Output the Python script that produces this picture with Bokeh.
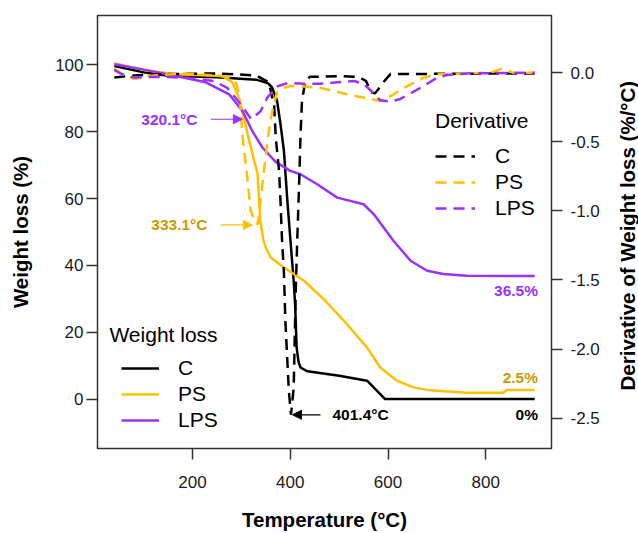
import math
from bokeh.plotting import figure
from bokeh.layouts import row
from bokeh.core.properties import value
from bokeh.models import (Range1d, LinearAxis, FixedTicker, NumeralTickFormatter,
                          Legend, LegendItem, Label, Arrow, NormalHead)
from bokeh.embed import file_html
from bokeh.resources import INLINE

# ---------------- data ----------------
# Weight loss (%) vs temperature (°C)
c_temp = [40, 100, 150, 250, 330, 355, 363, 373, 380, 387, 394, 402, 407, 410, 413, 417, 421, 435, 500, 557, 594, 900]
c_wl = [99.7, 97.8, 96.8, 96.3, 95.6, 94.5, 93.2, 89.2, 82.3, 74.3, 59.3, 44.4, 35.4, 28.0, 15.4, 11.0, 9.45, 8.3, 7.0, 5.5, 0.0, 0.0]

ps_temp = [40, 100, 166, 261, 282, 295, 305, 316, 324, 333, 336, 339, 345, 350, 360, 387, 428, 469, 516, 557,
           584, 618, 652, 686, 707, 761, 836, 843, 900]
ps_wl = [100.5, 98.5, 97.2, 96.7, 94.7, 90.2, 84.2, 77.3, 72.5, 67.5, 60.0, 53.0, 47.5, 45.3, 42.4, 39.4, 35.4, 29.8, 22.4, 15.4,
         9.45, 5.5, 3.5, 2.6, 2.4, 1.9, 1.9, 2.7, 2.7]

lps_temp = [40, 100, 166, 227, 275, 302, 322, 343, 370, 400, 421, 455, 496, 550, 571, 611, 646, 680, 713, 761, 900]
lps_wl = [100.2, 98.6, 96.7, 94.8, 91.2, 86.2, 80.3, 75.3, 71.0, 68.3, 67.3, 64.3, 60.3, 58.3, 55.3, 47.4, 41.4, 38.4, 37.4, 36.9, 36.8]

# Derivative of weight loss (%/°C)
c_dtemp = [40, 80, 150, 250, 330, 356, 367, 370, 373, 377, 380, 383, 387, 390, 397, 401.4, 407, 411, 414, 418,
           421, 424, 431, 440, 500, 540, 555, 565, 573, 580, 590, 605, 900]
c_deriv = [-0.035, -0.02, -0.01, -0.005, -0.02, -0.07, -0.24, -0.45, -0.57, -0.71, -0.93, -1.2, -1.45, -1.8, -2.30, -2.475, -2.28, -1.6, -1.24, -0.81,
           -0.45, -0.2, -0.06, -0.03, -0.025, -0.03, -0.06, -0.14, -0.15, -0.12, -0.07, -0.01, -0.005]

ps_dtemp = [40, 55, 81, 108, 180, 250, 279, 290, 297, 302, 312, 319, 326, 333, 337, 343, 350, 357, 363, 373,
            385, 401, 430, 462, 516, 564, 584, 610, 632, 673, 700, 760, 810, 833, 855, 900]
ps_deriv = [0.03, -0.01, -0.046, -0.024, -0.005, -0.02, -0.036, -0.08, -0.2, -0.45, -0.76, -1.0, -1.06, -1.10, -1.0, -0.8, -0.6, -0.4, -0.28, -0.14,
            -0.11, -0.096, -0.1, -0.11, -0.156, -0.19, -0.205, -0.16, -0.11, -0.036, -0.012, -0.005, 0.0, 0.03, 0.0, 0.0]

lps_dtemp = [40, 55, 80, 130, 190, 244, 271, 299, 320.1, 339, 353, 373, 394, 430, 462, 496, 530, 550, 565, 584,
             605, 625, 646, 673, 700, 720, 760, 900]
lps_deriv = [0.02, -0.01, -0.035, -0.03, -0.036, -0.06, -0.11, -0.23, -0.337, -0.28, -0.18, -0.10, -0.075, -0.08, -0.08, -0.07, -0.06, -0.08, -0.13, -0.2,
             -0.21, -0.19, -0.15, -0.096, -0.036, -0.017, -0.005, 0.0]

series_names = ["C", "PS", "LPS"]
x_ticks = [200, 400, 600, 800]
wl_ticks = [0, 20, 40, 60, 80, 100]
deriv_ticks = [-2.5, -2.0, -1.5, -1.0, -0.5, 0.0]

x_title = "Temperature (°C)"
wl_title = "Weight loss (%)"
deriv_title = "Derivative of Weight loss (%/°C)"

# peak annotations: text, temperature, derivative value
peak_text = ["320.1°C", "333.1°C", "401.4°C"]
peak_temp = [320.1, 333.1, 401.4]
peak_deriv = [-0.337, -1.102, -2.476]
# residue annotations
residue_text = ["36.5%", "2.5%", "0%"]
residue_y = [32.4, 6.5, -4.7]

# ---------------- styling ----------------
FONT = "Liberation Sans"
BLACK = "#000000"
GOLD = "#FFC000"
GOLD_TXT = "#C99A00"
PURPLE = "#9B30FF"
colors = [BLACK, GOLD, PURPLE]
txt_colors = [PURPLE, GOLD_TXT, BLACK]

p = figure(width=612, height=533,
           x_range=Range1d(5.6, 934.4), y_range=Range1d(-14.8, 114.8),
           output_backend="svg", toolbar_location=None,
           min_border_left=97, min_border_right=61, min_border_top=15, min_border_bottom=85)
p.extra_y_ranges = {"deriv": Range1d(-2.720, 0.414)}
p.grid.visible = False
p.outline_line_color = "#333333"
p.outline_line_width = 1.5
p.background_fill_color = "white"
p.border_fill_color = "white"

def style_axis(ax):
    ax.axis_line_color = None
    ax.major_tick_line_color = "#333333"
    ax.major_tick_line_width = 1.5
    ax.major_tick_out = 11
    ax.major_tick_in = 0
    ax.minor_tick_line_color = None
    ax.major_label_text_font = FONT
    ax.major_label_text_font_size = "17px"
    ax.major_label_text_color = "#1a1a1a"
    ax.axis_label_text_font = FONT
    ax.axis_label_text_font_size = "20.5px"
    ax.axis_label_text_font_style = "bold"
    ax.axis_label_text_color = "#000000"

xa = p.xaxis[0]
style_axis(xa)
xa.ticker = FixedTicker(ticks=x_ticks)
xa.axis_label = x_title
xa.major_label_standoff = 16
xa.axis_label_standoff = 17

ya = p.yaxis[0]
style_axis(ya)
ya.ticker = FixedTicker(ticks=wl_ticks)
ya.axis_label = wl_title
ya.major_label_standoff = 3
ya.axis_label_standoff = 20

ra = LinearAxis(y_range_name="deriv", ticker=FixedTicker(ticks=deriv_ticks),
                formatter=NumeralTickFormatter(format="0.0"))
style_axis(ra)
ra.major_label_standoff = 8
p.add_layout(ra, "right")

# ---------------- curves ----------------
wl_data = [(c_temp, c_wl), (ps_temp, ps_wl), (lps_temp, lps_wl)]
d_data = [(c_dtemp, c_deriv), (ps_dtemp, ps_deriv), (lps_dtemp, lps_deriv)]

wl_renderers = []
for (xs, ys), col in zip(wl_data, colors):
    wl_renderers.append(p.line(xs, ys, line_color=col, line_width=2.5, line_join="round"))

d_renderers = []
for (xs, ys), col in zip(d_data, colors):
    d_renderers.append(p.line(xs, ys, line_color=col, line_width=2.5, line_dash="11 7",
                              y_range_name="deriv"))

# ---------------- legends ----------------
def make_legend(renderers, loc, gw, stand, title=None):
    leg = Legend(items=[LegendItem(label=n, renderers=[r]) for n, r in zip(series_names, renderers)],
                 location=loc, orientation="vertical",
                 label_text_font=FONT, label_text_font_size="21px", label_text_color="#000000",
                 glyph_width=gw, glyph_height=26, label_height=26, label_standoff=stand,
                 spacing=0, padding=0, margin=0,
                 border_line_alpha=0, background_fill_alpha=0)
    if title:
        leg.title = title
        leg.title_text_font = FONT
        leg.title_text_font_size = "21px"
        leg.title_text_font_style = "normal"
        leg.title_text_color = "#000000"
        leg.title_standoff = 10
    return leg

p.add_layout(make_legend(wl_renderers, (24, 15), 38, 19))
p.add_layout(make_legend(d_renderers, (338, 227), 40, 20, title="Derivative"))

p.add_layout(Label(x=30, y=19.2, text="Weight loss", text_align="left", text_baseline="middle",
                   text_font=FONT, text_font_size="21px", text_color="#000000"))

# ---------------- peak annotations ----------------
arrow_len = [64.7, 64.6, 57.3]      # length of arrow shafts (°C)
arrow_gap = [18.1, 10.7, 3.1]       # gap between arrow tip and the peak (°C)
arrow_dir = [1, 1, -1]              # +1: arrow points right, -1: points left
text_gap = [27.1, 27.2, 24.5]

for t, xt, yd, col, ln, gp, dr, tg in zip(peak_text, peak_temp, peak_deriv, txt_colors,
                                         arrow_len, arrow_gap, arrow_dir, text_gap):
    acol = col if col != GOLD_TXT else GOLD
    tip = xt - dr * gp
    start = tip - dr * ln
    p.add_layout(Arrow(end=NormalHead(size=9, fill_color=acol, line_color=acol, line_width=1),
                       x_start=start, y_start=yd, x_end=tip, y_end=yd,
                       line_color=acol, line_width=1.2, y_range_name="deriv"))
    p.add_layout(Label(x=start - dr * tg, y=yd, y_range_name="deriv", text=t,
                       text_align="right" if dr > 0 else "left", text_baseline="middle",
                       text_font=FONT, text_font_size="15.5px", text_font_style="bold",
                       text_color=col))

for t, yv, col in zip(residue_text, residue_y, txt_colors):
    p.add_layout(Label(x=906.7, y=yv, text=t, text_align="right", text_baseline="middle",
                       text_font=FONT, text_font_size="15.5px", text_font_style="bold",
                       text_color=col))

# ---------------- right-hand title strip (text reads bottom-to-top) ----------------
t2 = figure(width=26, height=533, x_range=Range1d(0, 26), y_range=Range1d(0, 533),
            x_axis_location=None, y_axis_location=None,
            output_backend="svg", toolbar_location=None,
            min_border_left=0, min_border_right=0, min_border_top=0, min_border_bottom=0)
t2.grid.visible = False
t2.outline_line_color = None
t2.background_fill_color = "white"
t2.border_fill_color = "white"
t2.text(x=[15], y=[262], text=[deriv_title], angle=math.pi / 2,
        text_align="center", text_baseline="middle",
        text_font=value(FONT), text_font_size=value("20.5px"), text_font_style="bold",
        text_color="#000000")

layout = row(p, t2, spacing=0)
open("out.html", "w").write(file_html(layout, INLINE))
